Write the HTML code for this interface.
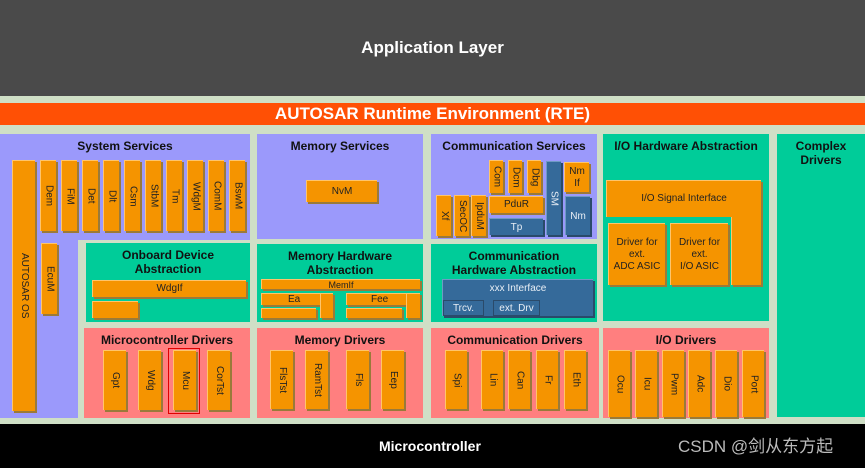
<!DOCTYPE html>
<html><head><meta charset="utf-8"><style>
*{margin:0;padding:0;box-sizing:border-box}
body{width:865px;height:468px;background:#cfdfc6;position:relative;overflow:hidden;font-family:"Liberation Sans",sans-serif}
div{position:absolute}
.p{background:#9b99fb}.g{background:#00cc99}.r{background:#ff7f7f}
.t{font-weight:bold;font-size:12px;color:#111;text-align:center;width:100%;line-height:14px}
.o{background:#f59400;border-top:1px solid #ffc56a;border-left:1px solid #ffc56a;box-shadow:2px 2px 0 #9a7a3a;font-size:10px;color:#222;display:flex;align-items:center;justify-content:center;text-align:center;line-height:12px}
.b{background:#356a9a;border-top:1px solid #6f9ac4;border-left:1px solid #6f9ac4;box-shadow:2px 2px 0 #2a4a6a;font-size:10px;color:#e8eef5;display:flex;align-items:center;justify-content:center}
.v span{writing-mode:vertical-rl}
</style></head><body>
<div style="left:0;top:0;width:865px;height:96px;background:#4a4a4a;color:#fff;font-weight:bold;font-size:17px;text-align:center;line-height:96px">Application Layer</div>
<div style="left:0;top:103px;width:865px;height:22px;background:#ff5005;color:#fff;font-weight:bold;font-size:17px;text-align:center;line-height:22px">AUTOSAR Runtime Environment (RTE)</div>
<div style="left:0;top:424px;width:865px;height:44px;background:#000;color:#fff;font-weight:bold;font-size:14px;line-height:44px;padding-left:379px">Microcontroller</div>
<div style="left:678px;top:436px;color:#bbb;font-size:17px;line-height:22px;font-family:'Liberation Sans','Noto Sans CJK SC',sans-serif">CSDN @剑从东方起</div>

<!-- System services -->
<div class="p" style="left:0;top:134px;width:250px;height:284px"></div>
<div style="left:78px;top:240px;width:172px;height:178px;background:#cfdfc6"></div>
<div class="t" style="left:0;top:139px;width:250px">System Services</div>
<div class="o v" style="left:12px;top:160px;width:23px;height:251px"><span>AUTOSAR OS</span></div>
<div class="o v" style="left:40px;top:160px;width:16px;height:71px"><span>Dem</span></div>
<div class="o v" style="left:61px;top:160px;width:16px;height:71px"><span>FiM</span></div>
<div class="o v" style="left:82px;top:160px;width:16px;height:71px"><span>Det</span></div>
<div class="o v" style="left:103px;top:160px;width:16px;height:71px"><span>Dlt</span></div>
<div class="o v" style="left:124px;top:160px;width:16px;height:71px"><span>Csm</span></div>
<div class="o v" style="left:145px;top:160px;width:16px;height:71px"><span>StbM</span></div>
<div class="o v" style="left:166px;top:160px;width:16px;height:71px"><span>Tm</span></div>
<div class="o v" style="left:187px;top:160px;width:16px;height:71px"><span>WdgM</span></div>
<div class="o v" style="left:208px;top:160px;width:16px;height:71px"><span>ComM</span></div>
<div class="o v" style="left:229px;top:160px;width:16px;height:71px"><span>BswM</span></div>
<div class="o v" style="left:41px;top:243px;width:16px;height:71px"><span>EcuM</span></div>

<div class="g" style="left:86px;top:243px;width:164px;height:79px"></div>
<div class="t" style="left:86px;top:248px;width:164px">Onboard Device<br>Abstraction</div>
<div class="o" style="left:92px;top:280px;width:154px;height:17px">WdgIf</div>
<div class="o" style="left:92px;top:301px;width:46px;height:17px"></div>

<div class="r" style="left:84px;top:328px;width:166px;height:90px"></div>
<div class="t" style="left:84px;top:333px;width:166px">Microcontroller Drivers</div>
<div class="o v" style="left:103px;top:350px;width:23px;height:60px"><span>Gpt</span></div>
<div class="o v" style="left:138px;top:350px;width:23px;height:60px"><span>Wdg</span></div>
<div style="left:168px;top:348px;width:32px;height:66px;border:1px solid #e00000"></div>
<div class="o v" style="left:173px;top:350px;width:23px;height:60px"><span>Mcu</span></div>
<div class="o v" style="left:207px;top:350px;width:23px;height:60px"><span>CorTst</span></div>

<!-- Memory -->
<div class="p" style="left:257px;top:134px;width:166px;height:105px"></div>
<div class="t" style="left:257px;top:139px;width:166px">Memory Services</div>
<div class="o" style="left:306px;top:180px;width:71px;height:22px">NvM</div>
<div class="g" style="left:257px;top:244px;width:166px;height:78px"></div>
<div class="t" style="left:257px;top:249px;width:166px">Memory Hardware<br>Abstraction</div>
<div class="o" style="left:261px;top:279px;width:159px;height:10px;font-size:9px">MemIf</div>
<div class="o" style="left:261px;top:293px;width:72px;height:12px;justify-content:flex-start;padding-left:26px">Ea</div>
<div class="o" style="left:320px;top:293px;width:13px;height:25px;box-shadow:2px 2px 0 #9a7a3a"></div>
<div class="o" style="left:261px;top:308px;width:55px;height:10px"></div>
<div class="o" style="left:346px;top:293px;width:74px;height:12px;justify-content:flex-start;padding-left:24px">Fee</div>
<div class="o" style="left:406px;top:293px;width:14px;height:25px"></div>
<div class="o" style="left:346px;top:308px;width:56px;height:10px"></div>
<div class="r" style="left:257px;top:328px;width:166px;height:90px"></div>
<div class="t" style="left:257px;top:333px;width:166px">Memory Drivers</div>
<div class="o v" style="left:270px;top:350px;width:23px;height:59px"><span>FlsTst</span></div>
<div class="o v" style="left:305px;top:350px;width:23px;height:59px"><span>RamTst</span></div>
<div class="o v" style="left:346px;top:350px;width:23px;height:59px"><span>Fls</span></div>
<div class="o v" style="left:381px;top:350px;width:23px;height:59px"><span>Eep</span></div>

<!-- Communication -->
<div class="p" style="left:431px;top:134px;width:166px;height:105px"></div>
<div class="t" style="left:431px;top:139px;width:166px">Communication Services</div>
<div class="o v" style="left:489px;top:160px;width:14px;height:33px"><span>Com</span></div>
<div class="o v" style="left:508px;top:160px;width:14px;height:33px"><span>Dcm</span></div>
<div class="o v" style="left:527px;top:160px;width:14px;height:33px"><span>Dbg</span></div>
<div class="b v" style="left:546px;top:161px;width:15px;height:74px"><span>SM</span></div>
<div class="o" style="left:564px;top:162px;width:25px;height:30px">Nm<br>If</div>
<div class="b" style="left:565px;top:196px;width:25px;height:39px">Nm</div>
<div class="o" style="left:489px;top:196px;width:54px;height:17px">PduR</div>
<div class="b" style="left:489px;top:218px;width:54px;height:17px">Tp</div>
<div class="o v" style="left:436px;top:195px;width:15px;height:41px"><span>Xf</span></div>
<div class="o v" style="left:454px;top:195px;width:15px;height:41px"><span>SecOC</span></div>
<div class="o v" style="left:471px;top:195px;width:15px;height:41px"><span>IpduM</span></div>
<div class="g" style="left:431px;top:244px;width:166px;height:78px"></div>
<div class="t" style="left:431px;top:249px;width:166px">Communication<br>Hardware Abstraction</div>
<div class="b" style="left:442px;top:279px;width:151px;height:37px;align-items:flex-start;padding-top:3px">xxx Interface</div>
<div class="b" style="left:443px;top:300px;width:41px;height:16px;box-shadow:none;border:1px solid #2a4a6a">Trcv.</div>
<div class="b" style="left:493px;top:300px;width:47px;height:16px;box-shadow:none;border:1px solid #2a4a6a">ext. Drv</div>
<div class="r" style="left:431px;top:328px;width:168px;height:90px"></div>
<div class="t" style="left:431px;top:333px;width:168px">Communication Drivers</div>
<div class="o v" style="left:445px;top:350px;width:22px;height:59px"><span>Spi</span></div>
<div class="o v" style="left:481px;top:350px;width:22px;height:59px"><span>Lin</span></div>
<div class="o v" style="left:508px;top:350px;width:22px;height:59px"><span>Can</span></div>
<div class="o v" style="left:536px;top:350px;width:22px;height:59px"><span>Fr</span></div>
<div class="o v" style="left:564px;top:350px;width:22px;height:59px"><span>Eth</span></div>

<!-- IO -->
<div class="g" style="left:603px;top:134px;width:166px;height:187px"></div>
<div class="t" style="left:603px;top:139px;width:166px">I/O Hardware Abstraction</div>
<div class="o" style="left:731px;top:180px;width:30px;height:105px"></div>
<div class="o" style="left:606px;top:180px;width:155px;height:37px;box-shadow:none">I/O Signal Interface</div>
<div class="o" style="left:608px;top:223px;width:57px;height:62px">Driver for<br>ext.<br>ADC ASIC</div>
<div class="o" style="left:670px;top:223px;width:58px;height:62px">Driver for<br>ext.<br>I/O ASIC</div>
<div class="r" style="left:603px;top:328px;width:166px;height:90px"></div>
<div class="t" style="left:603px;top:333px;width:166px">I/O Drivers</div>
<div class="o v" style="left:608px;top:350px;width:22px;height:67px"><span>Ocu</span></div>
<div class="o v" style="left:635px;top:350px;width:22px;height:67px"><span>Icu</span></div>
<div class="o v" style="left:662px;top:350px;width:22px;height:67px"><span>Pwm</span></div>
<div class="o v" style="left:688px;top:350px;width:22px;height:67px"><span>Adc</span></div>
<div class="o v" style="left:715px;top:350px;width:22px;height:67px"><span>Dio</span></div>
<div class="o v" style="left:742px;top:350px;width:22px;height:67px"><span>Port</span></div>

<div class="g" style="left:777px;top:134px;width:88px;height:283px"></div>
<div class="t" style="left:777px;top:139px;width:88px">Complex<br>Drivers</div>
</body></html>
